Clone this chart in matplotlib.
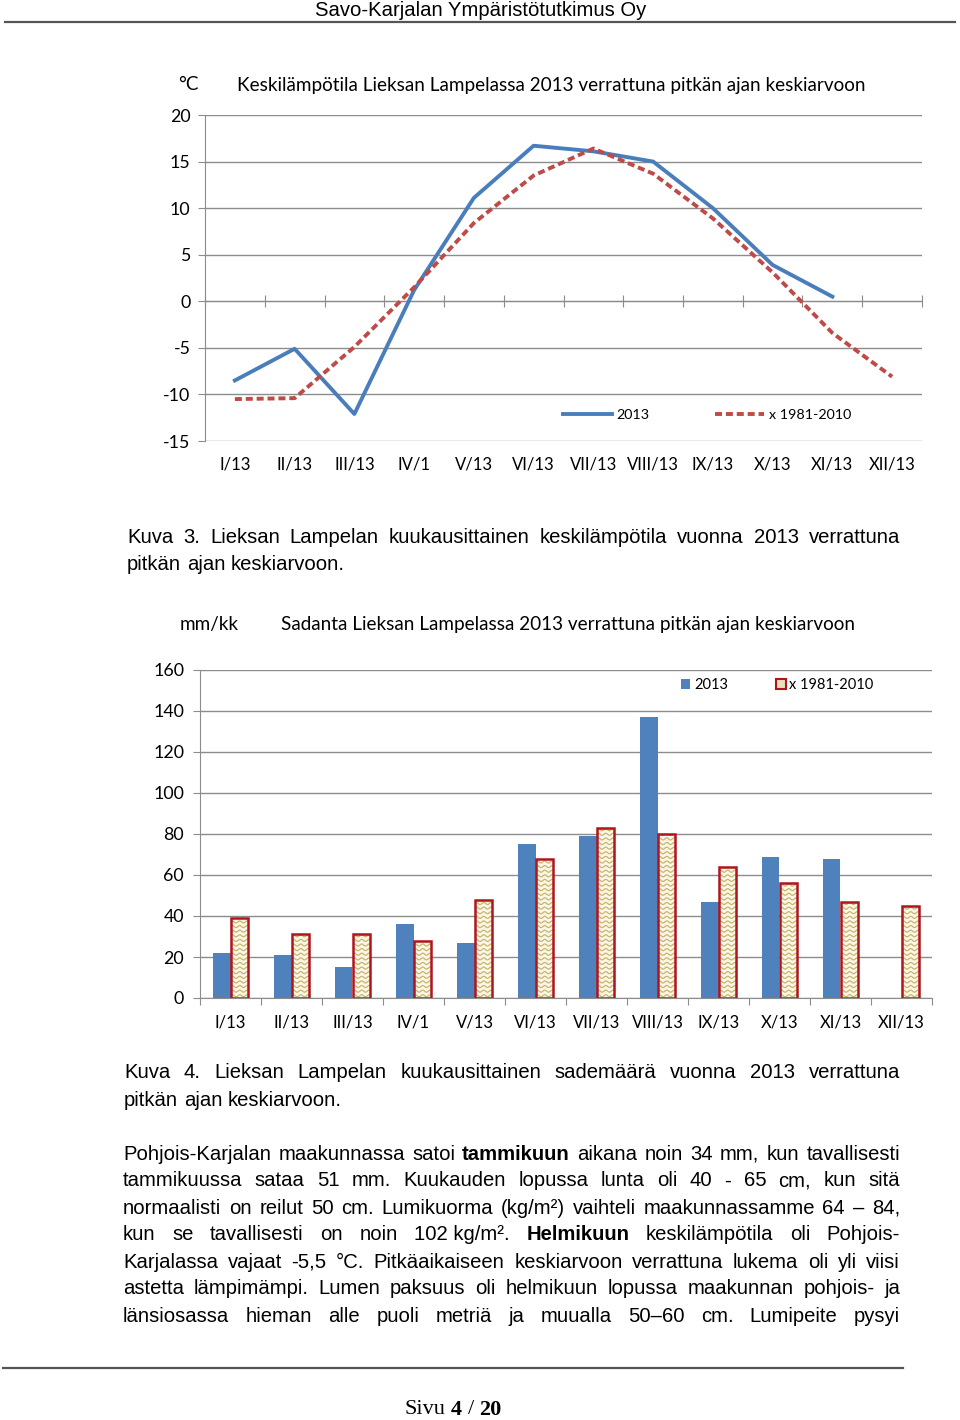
import numpy as np
import matplotlib
matplotlib.use("Agg")
import matplotlib.pyplot as plt
from matplotlib.patches import Rectangle
from matplotlib.lines import Line2D

plt.rcParams['axes.unicode_minus'] = False

W, H = 960, 1420

months = ['I/13', 'II/13', 'III/13', 'IV/1', 'V/13', 'VI/13', 'VII/13',
          'VIII/13', 'IX/13', 'X/13', 'XI/13', 'XII/13']
temp_2013 = [-8.5, -5.1, -12.1, 1.2, 11.1, 16.7, 16.1, 15.0, 10.0, 3.9, 0.5, np.nan]
temp_avg = [-10.5, -10.4, -4.9, 1.5, 8.4, 13.5, 16.4, 13.7, 8.9, 3.1, -3.4, -8.1]
rain_2013 = [22, 21, 15, 36, 27, 75, 79, 137, 47, 69, 68, np.nan]
rain_avg = [39, 31, 31, 28, 48, 68, 83, 80, 64, 56, 47, 45]

temp_title = 'Keskilämpötila Lieksan Lampelassa 2013 verrattuna pitkän ajan keskiarvoon'
rain_title = 'Sadanta Lieksan Lampelassa 2013 verrattuna pitkän ajan keskiarvoon'

BLUE = '#4A7EBB'
RED = '#BE4B48'
GRID = '#8C8C8C'
CH_FONT = 'Lato'
BODY = ['Liberation Sans', 'DejaVu Sans']

fig = plt.figure(figsize=(W / 100, H / 100), dpi=100)
renderer = fig.canvas.get_renderer()


def fpos(x, y):
    return x / W, 1 - y / H


def axrect(l, t, r, b):
    return [l / W, 1 - b / H, (r - l) / W, (b - t) / H]


def word_w(s, size, bold=False, family=BODY):
    t = fig.text(0, 0, s, fontsize=size, fontweight='bold' if bold else 'normal', family=family)
    w = t.get_window_extent(renderer).width
    t.remove()
    return w


def runs(words, x0, y, size, x1=None, family=BODY, center=False):
    ws = [word_w(s, size, b, family) for s, b in words]
    if x1 is not None and len(words) > 1:
        gap = (x1 - x0 - sum(ws)) / (len(words) - 1)
    else:
        gap = word_w('a a', size, family=family) - word_w('aa', size, family=family)
    if center:
        x0 = x0 - (sum(ws) + gap * (len(words) - 1)) / 2
    x = x0
    for (s, b), w in zip(words, ws):
        fig.text(*fpos(x, y), s, fontsize=size, family=family,
                 fontweight='bold' if b else 'normal', va='center', ha='left')
        x += w + gap


def line_words(s):
    out = []
    for tok in s.split(' '):
        if tok.startswith('*'):
            out.append((tok.strip('*'), True))
        else:
            out.append((tok.replace('~', ' '), False))
    return out


# page header / footer
fig.text(*fpos(481, 10), 'Savo-Karjalan Ympäristötutkimus Oy', fontsize=14.6,
         family=['Liberation Sans Narrow', 'Liberation Sans'], ha='center', va='center')
fig.add_artist(Line2D([5 / W, 955 / W], [1 - 22 / H] * 2, color='#555555', lw=1.6))
fig.add_artist(Line2D([3 / W, 903 / W], [1 - 1368 / H] * 2, color='#555555', lw=1.6))
runs([('Sivu', False), ('4', True), ('/', False), ('20', True)], 453, 1410, 16,
     family=['Liberation Serif'], center=True)

# ---- temperature chart
ax1 = fig.add_axes(axrect(205, 115, 922, 441))
x = np.arange(len(months))
ax1.plot(x, temp_2013, color=BLUE, lw=2.8, label='2013', zorder=3)
ax1.plot(x, temp_avg, color=RED, lw=2.8, dashes=(1.8, 1.0), label='x 1981-2010', zorder=3)
ax1.set_xlim(-0.5, 11.5)
ax1.set_ylim(-15, 20)
ax1.set_yticks(range(-15, 21, 5))
ax1.grid(axis='y', color=GRID, lw=1)
ax1.set_axisbelow(True)
for s in ['top', 'right']:
    ax1.spines[s].set_visible(False)
ax1.spines['left'].set_color(GRID)
ax1.spines['bottom'].set_position(('data', 0))
ax1.spines['bottom'].set_color(GRID)
ax1.set_xticks(np.arange(-0.5, 12, 1))
ax1.set_xticklabels([])
ax1.tick_params(axis='x', direction='inout', length=9, color=GRID)
ax1.tick_params(axis='y', length=5, color=GRID, pad=5.5)
for lab in ax1.get_yticklabels():
    lab.set_fontsize(12.8)
    lab.set_family(CH_FONT)
for i, m in enumerate(months):
    ax1.text(i, -24 / 326, m, transform=ax1.get_xaxis_transform(), ha='center',
             va='center', fontsize=12, family=CH_FONT)
ax1.legend(loc='center left', bbox_to_anchor=((563 - 205) / 717, (441 - 415) / 326),
           ncol=2, frameon=False, borderpad=0, borderaxespad=0, handlelength=3.4,
           handletextpad=0.35, columnspacing=4.6, prop={'family': CH_FONT, 'size': 10.3})
fig.text(*fpos(237, 85), temp_title, fontsize=13.6, family=CH_FONT, va='center')
fig.text(*fpos(188, 85), '°C', fontsize=13.6, family=CH_FONT, va='center', ha='center')

# ---- precipitation chart
ax2 = fig.add_axes(axrect(200, 670, 932, 998))
w = 0.28
ax2.bar(x - w / 2, rain_2013, w, color='#4F81BD', zorder=2, label='2013')
fills = ax2.bar(x + w / 2, rain_avg, w, facecolor='#FBF7E8', edgecolor='none', zorder=2)
for rect in fills:
    x0, wd, h = rect.get_x(), rect.get_width(), rect.get_height()
    xx = np.linspace(x0, x0 + wd, 80)
    for r in np.arange(1.1, h, 2.25):
        ln, = ax2.plot(xx, r + 0.5 * np.sin(2 * np.pi * (xx - x0) / (wd / 2.3)),
                       color='#C9B56A', lw=0.9, zorder=2.2)
        ln.set_clip_path(rect)
ax2.bar(x + w / 2, rain_avg, w, facecolor='none', edgecolor='#B0141E', lw=1.8, zorder=2.4)
ax2.set_xlim(-0.5, 11.5)
ax2.set_ylim(0, 160)
ax2.set_yticks(range(0, 161, 20))
ax2.grid(axis='y', color=GRID, lw=1)
ax2.set_axisbelow(True)
for s in ['top', 'right']:
    ax2.spines[s].set_visible(False)
ax2.spines['left'].set_color(GRID)
ax2.spines['bottom'].set_color(GRID)
ax2.set_xticks(np.arange(-0.5, 12, 1))
ax2.set_xticklabels([])
ax2.tick_params(axis='x', length=5, color=GRID)
ax2.tick_params(axis='y', length=5, color=GRID, pad=6.5)
for lab in ax2.get_yticklabels():
    lab.set_fontsize(12.8)
    lab.set_family(CH_FONT)
for i, m in enumerate(months):
    ax2.text(i, -24 / 328, m, transform=ax2.get_xaxis_transform(), ha='center',
             va='center', fontsize=12, family=CH_FONT)
h_blue = Rectangle((0, 0), 1, 1, facecolor='#4F81BD')
h_red = Rectangle((0, 0), 1, 1, facecolor='#E9E0B8', edgecolor='#B0141E', lw=1.5)
ax2.legend([h_blue, h_red], ['2013', 'x 1981-2010'], loc='center left',
           bbox_to_anchor=((681 - 200) / 732, (998 - 685) / 328), ncol=2, frameon=False,
           borderpad=0, borderaxespad=0, handlelength=0.65, handleheight=0.65,
           handletextpad=0.25, columnspacing=3.3, prop={'family': CH_FONT, 'size': 10.5})
fig.text(*fpos(180, 624), 'mm/kk', fontsize=13.6, family=CH_FONT, va='center')
fig.text(*fpos(281, 624), rain_title, fontsize=13.6, family=CH_FONT, va='center')

# ---- captions and body text
SZ = 14.6
runs(line_words('Kuva 3. Lieksan Lampelan kuukausittainen keskilämpötila vuonna 2013 verrattuna'),
     127, 538, SZ, x1=900)
runs(line_words('pitkän ajan keskiarvoon.'), 127, 565, SZ)
runs(line_words('Kuva 4. Lieksan Lampelan kuukausittainen sademäärä vuonna 2013 verrattuna'),
     124, 1073, SZ, x1=900)
runs(line_words('pitkän ajan keskiarvoon.'), 124, 1100, SZ)

body = [
    'Pohjois-Karjalan maakunnassa satoi *tammikuun* aikana noin 34 mm, kun tavallisesti',
    'tammikuussa sataa 51 mm. Kuukauden lopussa lunta oli 40 - 65 cm, kun sitä',
    'normaalisti on reilut 50 cm. Lumikuorma (kg/m²) vaihteli maakunnassamme 64 – 84,',
    'kun se tavallisesti on noin 102~kg/m². *Helmikuun* keskilämpötila oli Pohjois-',
    'Karjalassa vajaat -5,5 °C. Pitkäaikaiseen keskiarvoon verrattuna lukema oli yli viisi',
    'astetta lämpimämpi. Lumen paksuus oli helmikuun lopussa maakunnan pohjois- ja',
    'länsiosassa hieman alle puoli metriä ja muualla 50–60 cm. Lumipeite pysyi',
]
for k, s in enumerate(body):
    runs(line_words(s), 123, 1154 + 27 * k, SZ, x1=900)

fig.savefig('out.png', dpi=100)
